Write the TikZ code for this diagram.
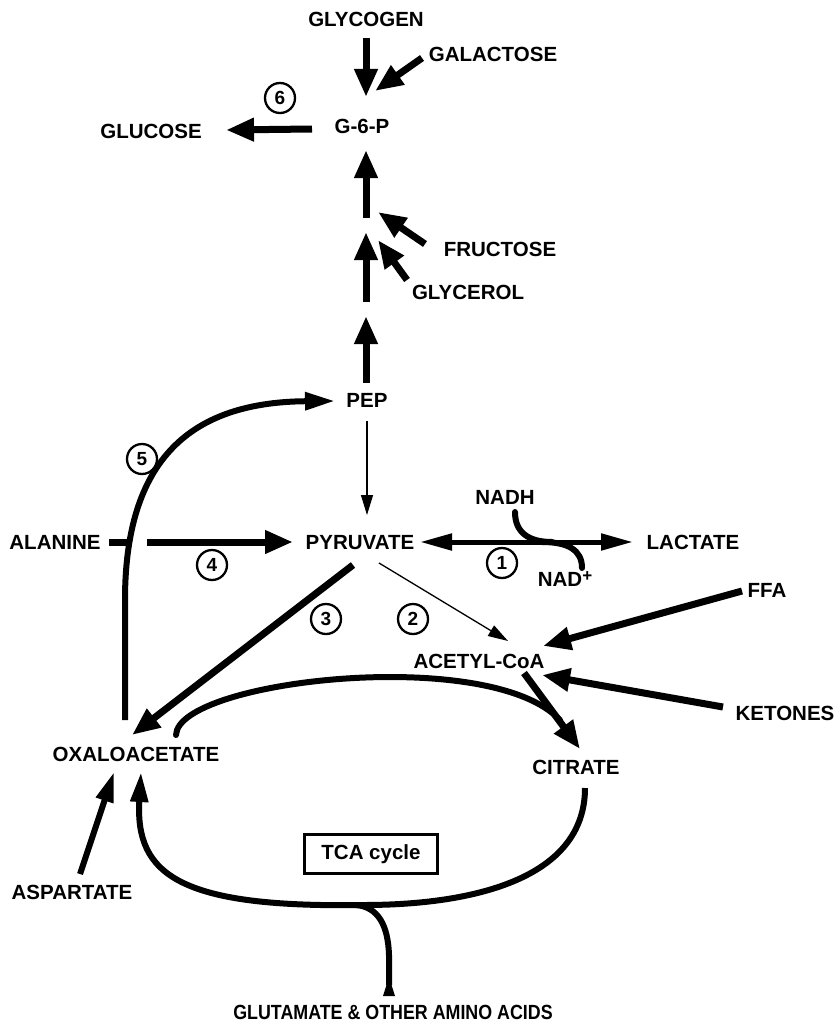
\documentclass[tikz,border=0pt]{standalone}
\usepackage{fontspec}
\setmainfont{Liberation Sans}
\usetikzlibrary{arrows.meta,calc}
\newcommand\lblfont{\bfseries\fontsize{20.5}{24}\selectfont}
\newcommand\numfont{\bfseries\fontsize{19}{19}\selectfont}
\tikzset{
  lbl/.style={font=\lblfont, inner sep=0pt, text height=15pt, text depth=0pt},
  num/.style={circle, draw, line width=2.3pt, minimum size=30pt, inner sep=0pt, font=\numfont},
  tcabox/.style={draw, line width=2.2pt, minimum width=133pt, minimum height=39pt, inner sep=0pt, font=\lblfont},
  fat/.style={line width=7pt, -{Triangle[length=28pt,width=22pt]}},
  slim/.style={line width=6pt, -{Triangle[length=30pt,width=17pt]}},
  thinarrow/.style={line width=1.3pt, -{Triangle[length=20pt,width=12pt]}},
  twoway/.style={line width=5pt, {Triangle[length=32pt,width=16pt]}-{Triangle[length=32pt,width=16pt]}},
  curve/.style={line width=6pt, line cap=round},
  stub/.style={line width=7pt}
}
\begin{document}
\begin{tikzpicture}[x=1pt,y=-1pt]
\useasboundingbox (0,0) rectangle (837,1030);
% labels
\node[lbl] (glycogen) at (366,19) {GLYCOGEN};
\node[lbl] (galactose) at (493,54) {GALACTOSE};
\node[lbl] (g6p) at (362,126) {G-6-P};
\node[lbl] (glucose) at (151,131) {GLUCOSE};
\node[num] (n6) at (280,98) {6};
\node[lbl] (fructose) at (500,249) {FRUCTOSE};
\node[lbl] (glycerol) at (468,292) {GLYCEROL};
\node[lbl] (pep) at (367,400) {PEP};
\node[num] (n5) at (142,459) {5};
\node[lbl] (alanine) at (55,542) {ALANINE};
\node[lbl] (pyruvate) at (360,542) {PYRUVATE};
\node[lbl] (nadh) at (505,497) {NADH};
\node[lbl] (lactate) at (693,542) {LACTATE};
\node[num] (n4) at (212,565) {4};
\node[num] (n1) at (502,563) {1};
\node[lbl] (nad) at (565,579) {NAD\raisebox{5pt}{\fontsize{17}{17}\selectfont +}};
\node[num] (n3) at (326,619) {3};
\node[num] (n2) at (413,619) {2};
\node[lbl] (ffa) at (767,590) {FFA};
\node[lbl] (acetyl) at (479,661) {ACETYL-CoA};
\node[lbl] (ketones) at (785,713) {KETONES};
\node[lbl] (oxalo) at (136,754) {OXALOACETATE};
\node[lbl] (citrate) at (576,767) {CITRATE};
\node[tcabox] (tca) at (371,854) {TCA cycle};
\node[lbl] (aspartate) at (72,892) {ASPARTATE};
\node[lbl, xscale=0.87] (glutamate) at (393,1012) {GLUTAMATE \& OTHER AMINO ACIDS};
% free coordinates
\coordinate (s1) at (366,218);
\coordinate (s2t) at (366,232);
\coordinate (s2b) at (366,302);
\coordinate (s3t) at (366,316);
\coordinate (fr) at (378,212);
\coordinate (gl) at (378,240);
\coordinate (al1) at (128,542);
\coordinate (al2) at (147,542);
\coordinate (bend5) at (125,600);
\coordinate (nadhj) at (552,542);
\coordinate (nadj) at (542,542);
\coordinate (arcbot) at (364,905);
\coordinate (glubend) at (389,955);
% top part
\draw[fat] ($(glycogen)+(0,19)$) -- ($(g6p)+(4,-29)$);
\draw[fat] ($(galactose)+(-71,4)$) -- ($(g6p)+(13,-35)$);
\draw[fat] ($(g6p)+(-50,3)$) -- ($(glucose)+(75,-1)$);
\draw[fat] (s1) -- ($(g6p)+(4,24)$);
\draw[fat] (s2b) -- (s2t);
\draw[fat] ($(pep)+(-1,-17)$) -- (s3t);
\draw[fat] ($(fructose)+(-75,-5)$) -- (fr);
\draw[fat] ($(glycerol)+(-61,-12)$) -- (gl);
% pep / pyruvate
\draw[thinarrow] ($(pep)+(0,21)$) -- ($(pyruvate)+(7,-27)$);
\draw[slim] ($(oxalo)+(-11,-34)$) -- (bend5) .. controls (125,450) and (200,402) .. ($(pep)+(-32,1)$);
\draw[stub] ($(alanine)+(54,0)$) -- (al1);
\draw[fat] (al2) -- ($(pyruvate)+(-67,0)$);
\draw[twoway] ($(pyruvate)+(60,0)$) -- ($(lactate)+(-60,0)$);
\draw[curve] ($(nadh)+(10,15)$) .. controls (515,532) and (528,542) .. (nadhj);
\draw[curve] (nadj) .. controls (568,542) and (582,550) .. ($(nad)+(17,-11)$);
% pyruvate branches
\draw[fat] ($(pyruvate)+(-7,23)$) -- ($(oxalo)+(-4,-19)$);
\draw[thinarrow] ($(pyruvate)+(19,21)$) -- ($(acetyl)+(29,-20)$);
\draw[fat] ($(ffa)+(-25,1)$) -- ($(acetyl)+(64,-15)$);
\draw[fat] ($(ketones)+(-62,-6)$) -- ($(acetyl)+(63,14)$);
% TCA cycle
\draw[curve] ($(oxalo)+(40,-19)$) .. controls (178,680) and (490,645) .. ($(citrate)+(-16,-47)$);
\draw[fat] ($(acetyl)+(45,12)$) -- ($(citrate)+(4,-18)$);
\draw[slim] ($(citrate)+(9,21)$) .. controls (585,880) and (470,905) .. (arcbot)
   .. controls (180,908) and (135,875) .. ($(oxalo)+(5,18)$);
\draw[slim] ($(aspartate)+(8,-18)$) -- ($(oxalo)+(-22,18)$);
\draw[curve, line cap=butt] ($(glutamate)+(-4,-27)$) -- (glubend) .. controls (388,925) and (378,907) .. ($(arcbot)+(-8,0)$);
\fill ($(glutamate)+(-4,-35)$) -- ($(glutamate)+(2,-16)$) -- ($(glutamate)+(-10,-16)$) -- cycle;
\end{tikzpicture}
\end{document}
